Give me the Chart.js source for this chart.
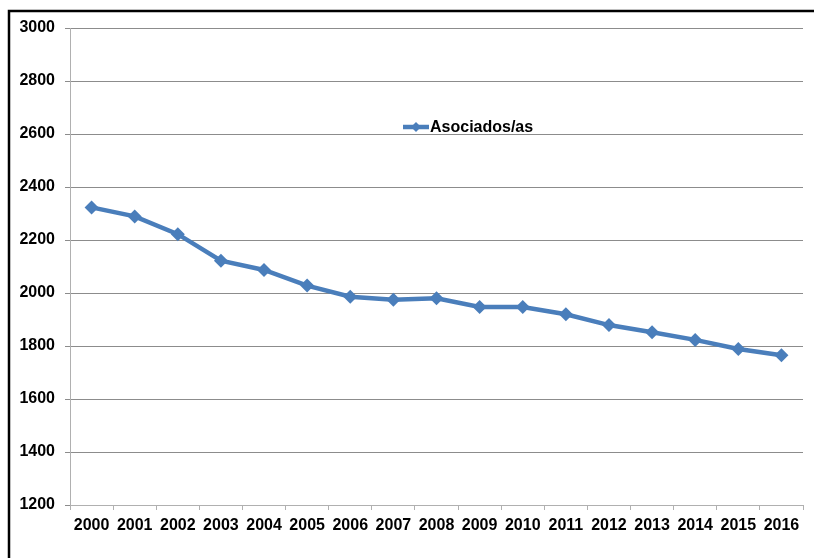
<!DOCTYPE html>
<html><head><meta charset="utf-8">
<script src="https://cdn.jsdelivr.net/npm/chart.js@4/dist/chart.umd.min.js"></script>
<style>html,body{margin:0;padding:0;background:#fff}#wrap{width:814px;height:558px}</style>
</head><body><div id="wrap"><canvas id="c" width="814" height="558"></canvas></div>
<script>
const years = ['2000','2001','2002','2003','2004','2005','2006','2007','2008','2009','2010','2011','2012','2013','2014','2015','2016'];
const seriesLabel = 'Asociados/as';
const asociados = [2323, 2289, 2222, 2122, 2087, 2028, 1986, 1975, 1980, 1947, 1947, 1920, 1879, 1852, 1823, 1789, 1765];
const yMin = 1200, yMax = 3000, yStep = 200;

const FONT = "'Liberation Sans', Arial, sans-serif";
const BLUE = '#4a7ebb';

const frame = {
  id: 'frame',
  beforeDraw(chart) {
    const ctx = chart.ctx;
    ctx.save();
    ctx.fillStyle = '#fff';
    ctx.fillRect(0, 0, chart.width, chart.height);
    ctx.strokeStyle = '#000';
    ctx.lineWidth = 2.5;
    ctx.strokeRect(9, 11, chart.width + 20, chart.height + 20);
    ctx.restore();
  }
};

const innerLegend = {
  id: 'innerLegend',
  afterDatasetsDraw(chart) {
    const ctx = chart.ctx, a = chart.chartArea;
    const x = a.left + 333, y = a.top + 99;
    ctx.save();
    ctx.strokeStyle = BLUE; ctx.lineWidth = 4.5;
    ctx.beginPath(); ctx.moveTo(x, y); ctx.lineTo(x + 26, y); ctx.stroke();
    ctx.fillStyle = BLUE;
    ctx.beginPath(); ctx.moveTo(x + 13, y - 5); ctx.lineTo(x + 18, y); ctx.lineTo(x + 13, y + 5); ctx.lineTo(x + 8, y); ctx.closePath(); ctx.fill();
    ctx.fillStyle = '#000';
    ctx.font = 'bold 16px ' + FONT;
    ctx.textBaseline = 'middle';
    ctx.fillText(chart.data.datasets[0].label, x + 27, y + 1);
    ctx.restore();
  }
};

new Chart(document.getElementById('c'), {
  type: 'line',
  data: {
    labels: years,
    datasets: [{
      label: seriesLabel,
      data: asociados,
      borderColor: BLUE,
      backgroundColor: BLUE,
      borderWidth: 4.5,
      pointStyle: 'rectRot',
      pointRadius: 7,
      pointHoverRadius: 7,
      pointBorderWidth: 0,
      tension: 0
    }]
  },
  options: {
    responsive: false,
    animation: false,
    devicePixelRatio: 1,
    layout: { padding: { left: 8, top: 28, right: 11, bottom: 0 } },
    plugins: { legend: { display: false }, tooltip: { enabled: false } },
    scales: {
      x: {
        offset: true,
        grid: { offset: true, drawOnChartArea: false, tickLength: 5, color: '#b0b0b0' },
        border: { color: '#b0b0b0', width: 1 },
        ticks: { color: '#000', font: { family: FONT, size: 16, weight: 'bold' }, padding: 6, maxRotation: 0, autoSkip: false },
        afterFit(s) { s.height = 53; }
      },
      y: {
        min: yMin, max: yMax,
        ticks: { stepSize: yStep, color: '#000', font: { family: FONT, size: 16, weight: 'bold' }, padding: 10,
                 callback: v => String(v) },
        grid: { color: '#8c8c8c', tickLength: 5 },
        border: { color: '#b0b0b0', width: 1 },
        afterFit(s) { s.width = 62; }
      }
    }
  },
  plugins: [frame, innerLegend]
});
</script></body></html>
